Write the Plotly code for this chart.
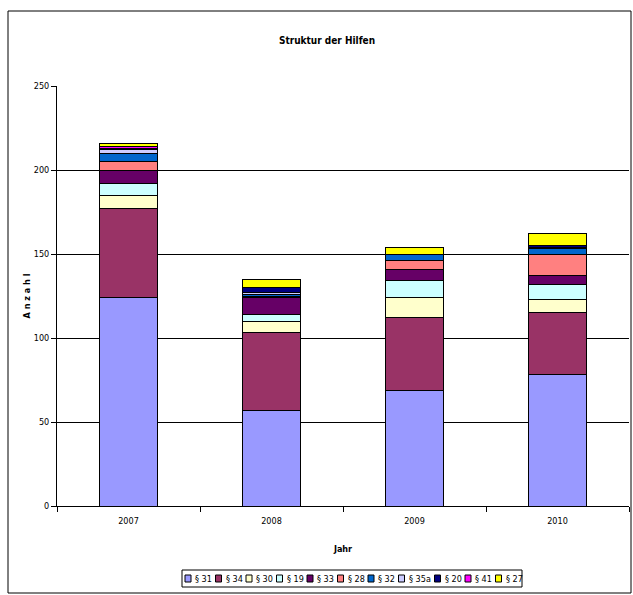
import plotly.graph_objects as go

# Jahre und Anzahl der Hilfen je Paragraph
years = ["2007", "2008", "2009", "2010"]
s31 = [124, 57, 69, 78]
s34 = [53, 46, 43, 37]
s30 = [8, 7, 12, 8]
s19 = [7, 4, 10, 9]
s33 = [8, 10, 7, 5]
s28 = [5, 1, 5, 13]
s32 = [5, 1, 4, 3]
s35a = [2, 1, 0, 1]
s20 = [1, 3, 0, 1]
s41 = [1, 0, 0, 0]
s27 = [2, 5, 4, 7]

series = [
    ("§ 31", s31, "#9999FF"),
    ("§ 34", s34, "#993366"),
    ("§ 30", s30, "#FFFFCC"),
    ("§ 19", s19, "#CCFFFF"),
    ("§ 33", s33, "#660066"),
    ("§ 28", s28, "#FF8080"),
    ("§ 32", s32, "#0066CC"),
    ("§ 35a", s35a, "#CCCCFF"),
    ("§ 20", s20, "#000080"),
    ("§ 41", s41, "#FF00FF"),
    ("§ 27", s27, "#FFFF00"),
]

FONT = "DejaVu Sans Condensed, Liberation Sans Narrow, Arial Narrow, sans-serif"

fig = go.Figure()
for name, vals, col in series:
    fig.add_trace(go.Bar(
        x=years, y=vals, name=name, showlegend=False,
        marker=dict(color=col, line=dict(color="#000000", width=1)),
    ))

W, H = 633, 595
left, right, top, bottom = 57, 629, 86, 506
pw, ph = right - left, bottom - top


def px_x(v):
    return (v - left) / pw


def px_y(v):
    return (bottom - v) / ph


fig.update_layout(
    width=W, height=H,
    barmode="stack", bargap=0.6,
    paper_bgcolor="white", plot_bgcolor="white",
    margin=dict(l=left, r=W - right, t=top, b=H - bottom, pad=0, autoexpand=False),
    font=dict(family=FONT, size=9, color="#000000"),
    title=dict(text="<b>Struktur der Hilfen</b>", x=327 / W, xanchor="center",
               y=1 - 40 / H, yanchor="middle", font=dict(size=10, family=FONT)),
    showlegend=False,
    xaxis=dict(
        type="category", showline=True, linecolor="#000000", linewidth=1,
        ticks="outside", tickson="boundaries", ticklen=5, tickcolor="#000000",
        tickfont=dict(size=9), mirror=False, ticklabelstandoff=6,
        title=dict(text="<b>Jahr</b>", font=dict(size=9), standoff=20),
    ),
    yaxis=dict(
        range=[0, 250], dtick=50, showline=True, linecolor="#000000", linewidth=1,
        ticks="outside", ticklen=5, tickcolor="#000000",
        showgrid=True, gridcolor="#000000", gridwidth=1,
        tickfont=dict(size=9), zeroline=False,
        title=dict(text="<b>A n z a h l</b>", font=dict(size=9), standoff=1),
    ),
)

# Rahmen um das gesamte Diagramm
fig.add_shape(
    type="rect", xref="paper", yref="paper",
    x0=px_x(8), x1=px_x(631), y0=px_y(593), y1=px_y(11),
    line=dict(color="#000000", width=1), fillcolor="rgba(0,0,0,0)", layer="below",
)

# Legende als Zeile unter dem Diagramm
leg_x0, leg_x1, leg_y0, leg_y1 = 182, 522, 570, 587
fig.add_shape(
    type="rect", xref="paper", yref="paper",
    x0=px_x(leg_x0), x1=px_x(leg_x1), y0=px_y(leg_y1), y1=px_y(leg_y0),
    line=dict(color="#000000", width=1), fillcolor="white",
)
cx = leg_x0 + 3
cy = (leg_y0 + leg_y1) / 2
for name, _, col in series:
    fig.add_shape(
        type="rect", xref="paper", yref="paper",
        x0=px_x(cx), x1=px_x(cx + 6), y0=px_y(cy + 3.5), y1=px_y(cy - 3.5),
        line=dict(color="#000000", width=1), fillcolor=col,
    )
    fig.add_annotation(
        x=px_x(cx + 8), y=px_y(cy), xref="paper", yref="paper",
        text=name, showarrow=False, xanchor="left", yanchor="middle",
        font=dict(size=9, family=FONT), xshift=0,
    )
    cx += 30.5 if name != "§ 35a" else 36

fig.write_html("out.html")
